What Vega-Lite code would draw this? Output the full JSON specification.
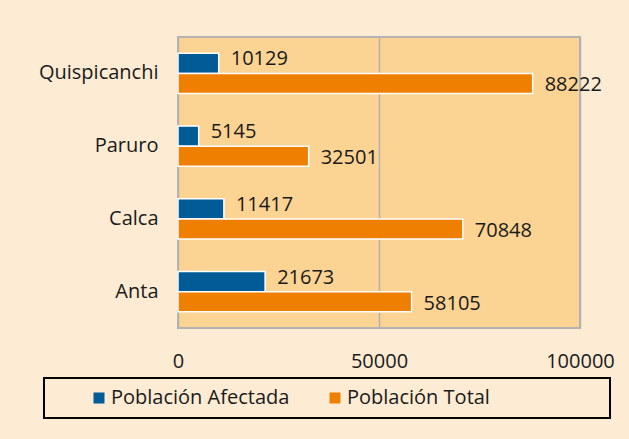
{
  "$schema": "https://vega.github.io/schema/vega-lite/v6.json",
  "autosize": {"type": "none"},
  "padding": {"left": 178, "top": 37, "right": 49, "bottom": 111},
  "width": 402,
  "height": 291,
  "background": "#FDEBD3",
  "config": {
    "font": "Open Sans",
    "view": {"fill": "#FBD393", "stroke": "#B3B3B3", "strokeWidth": 2},
    "axis": {"labelFont": "Open Sans", "labelFontSize": 20, "labelColor": "#1a1a1a", "domain": false, "ticks": false, "title": null},
    "legend": {"strokeWidth": 2}
  },
  "data": {
    "values": [
      {"provincia": "Quispicanchi", "serie": "Población Afectada", "valor": 10129},
      {"provincia": "Quispicanchi", "serie": "Población Total", "valor": 88222},
      {"provincia": "Paruro", "serie": "Población Afectada", "valor": 5145},
      {"provincia": "Paruro", "serie": "Población Total", "valor": 32501},
      {"provincia": "Calca", "serie": "Población Afectada", "valor": 11417},
      {"provincia": "Calca", "serie": "Población Total", "valor": 70848},
      {"provincia": "Anta", "serie": "Población Afectada", "valor": 21673},
      {"provincia": "Anta", "serie": "Población Total", "valor": 58105}
    ]
  },
  "encoding": {
    "y": {
      "field": "provincia", "type": "nominal",
      "sort": ["Quispicanchi", "Paruro", "Calca", "Anta"],
      "scale": {"paddingInner": 0.45, "paddingOuter": 0.225},
      "axis": {"labelPadding": 20, "grid": false}
    },
    "yOffset": {
      "field": "serie", "type": "nominal",
      "sort": ["Población Afectada", "Población Total"],
      "scale": {"paddingInner": 0, "paddingOuter": 0}
    },
    "x": {
      "field": "valor", "type": "quantitative",
      "scale": {"domain": [0, 100000], "nice": false},
      "axis": {"values": [0, 50000, 100000], "format": "d", "labelPadding": 23, "grid": true, "gridColor": "#B3B3B3", "gridWidth": 1.5, "gridOpacity": 1, "labelFlush": false}
    }
  },
  "layer": [
    {
      "mark": {"type": "bar", "stroke": "white", "strokeWidth": 1.5},
      "encoding": {
        "color": {
          "field": "serie", "type": "nominal",
          "sort": ["Población Afectada", "Población Total"],
          "scale": {"domain": ["Población Afectada", "Población Total"], "range": ["#005B96", "#EF7F00"]},
          "legend": {
            "orient": "none", "legendX": -134, "legendY": 341,
            "direction": "horizontal", "title": null,
            "strokeColor": "#000000", "fillColor": "#FDEBD3",
            "padding": 10, "symbolOffset": 35, "symbolType": "square", "symbolSize": 121,
            "symbolStrokeWidth": 0, "labelOffset": 2, "columnPadding": 0,
            "labelFont": "Open Sans", "labelFontSize": 20, "labelColor": "#1a1a1a",
            "labelLimit": 600,
            "labelExpr": "datum.index > 0.5 ? datum.label + '\u00a0\u00a0\u00a0\u00a0\u00a0\u00a0\u00a0\u00a0\u00a0\u00a0\u00a0\u00a0\u00a0\u00a0\u00a0\u00a0\u00a0\u00a0\u00a0\u00a0\u00a0\u200c' : datum.label"
          }
        }
      }
    },
    {
      "transform": [{"filter": "datum.serie == 'Población Afectada'"}],
      "mark": {"type": "text", "align": "left", "baseline": "middle", "dx": 12, "dy": -4, "font": "Open Sans", "fontSize": 20, "color": "#1a1a1a"},
      "encoding": {"text": {"field": "valor", "type": "quantitative", "format": "d"}}
    },
    {
      "transform": [{"filter": "datum.serie == 'Población Total'"}],
      "mark": {"type": "text", "align": "left", "baseline": "middle", "dx": 12, "dy": 2, "font": "Open Sans", "fontSize": 20, "color": "#1a1a1a"},
      "encoding": {"text": {"field": "valor", "type": "quantitative", "format": "d"}}
    }
  ]
}
